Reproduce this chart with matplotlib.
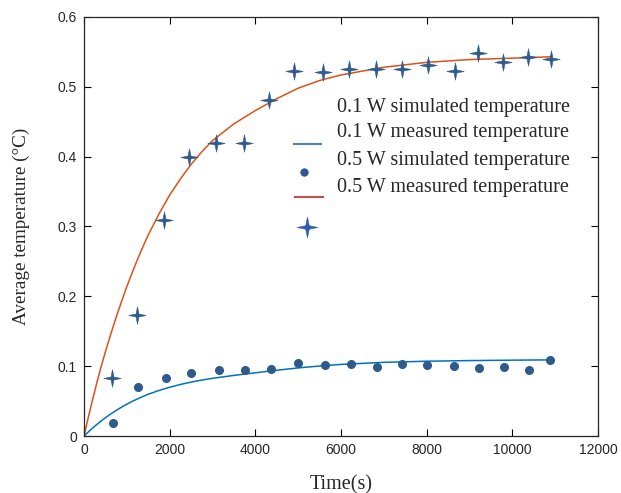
import matplotlib.pyplot as plt
from matplotlib.path import Path
import numpy as np


# measured points, 0.1 W
t_01 = [670, 1261, 1922, 2506, 3145, 3752, 4367, 4990, 5635, 6227,
        6834, 7418, 8009, 8633, 9231, 9815, 10398, 10881]
T_01 = [0.019, 0.070, 0.083, 0.090, 0.094, 0.0945, 0.0964, 0.104, 0.102, 0.103,
        0.099, 0.103, 0.102, 0.100, 0.0974, 0.099, 0.0945, 0.109]

# measured points, 0.5 W
t_05 = [661, 1245, 1876, 2459, 3075, 3744, 4320, 4911, 5581, 6180,
        6811, 7425, 8032, 8655, 9192, 9791, 10368, 10912]
T_05 = [0.0826, 0.173, 0.309, 0.400, 0.420, 0.420, 0.481, 0.522, 0.521, 0.525,
        0.525, 0.526, 0.531, 0.523, 0.549, 0.536, 0.542, 0.540]

# simulated curves
t_sim = [0, 100, 200, 300, 400, 500, 625, 750, 875, 1000, 1125, 1250, 1375, 1500,
         1750, 2000, 2250, 2500, 2750, 3000, 3500, 4000, 4500, 5000, 5500, 6000,
         7000, 8000, 9000, 10000, 10900]
sim_01 = [0, 0.0058, 0.0114, 0.0166, 0.0215, 0.0262, 0.0316, 0.0366, 0.0413, 0.0456,
          0.0496, 0.0532, 0.0566, 0.0598, 0.0652, 0.0698, 0.0738, 0.0772, 0.0801, 0.0826,
          0.0868, 0.0905, 0.0942, 0.0975, 0.1002, 0.1025, 0.1055, 0.1071, 0.1080,
          0.1086, 0.1090]
sim_05 = [0, 0.0267, 0.0520, 0.0765, 0.0995, 0.1208, 0.1460, 0.1700, 0.1925, 0.2140,
          0.2340, 0.2530, 0.2710, 0.2880, 0.3180, 0.3450, 0.3680, 0.3890, 0.4070, 0.4230,
          0.4470, 0.4660, 0.4830, 0.4980, 0.5090, 0.5170, 0.5280, 0.5350, 0.5390,
          0.5410, 0.5430]

labels = ['0.1 W simulated temperature', '0.1 W measured temperature',
          '0.5 W simulated temperature', '0.5 W measured temperature']

mk_col = '#2e5a8c'
txt_col = '#262626'

# thin four-pointed star
w = 0.17
star = Path([(0, 1), (w, w), (1, 0), (w, -w), (0, -1), (-w, -w), (-1, 0), (-w, w), (0, 1)],
            [Path.MOVETO] + [Path.LINETO] * 7 + [Path.CLOSEPOLY])

fig = plt.figure(figsize=(6.21, 4.93), dpi=100)
ax = fig.add_axes([0.1353, 0.1156, 0.8277, 0.850])

ax.plot(t_sim, sim_01, color='#0072BD', lw=1.1)
ax.plot(t_sim, sim_05, color='#D95319', lw=1.1)
ax.plot(t_01, T_01, 'o', color=mk_col, ms=5.5, mec=mk_col)
ax.plot(t_05, T_05, linestyle='none', marker=star, color=mk_col, ms=12.5, mew=0.4)

ax.set_xlim(0, 12000)
ax.set_ylim(0, 0.6)
ax.set_xticks(np.arange(0, 12001, 2000))
ax.set_yticks(np.arange(0, 0.61, 0.1))
ax.set_yticklabels(['0', '0.1', '0.2', '0.3', '0.4', '0.5', '0.6'])
ax.tick_params(direction='in', top=True, right=True, length=5, width=0.8,
               labelsize=10, labelcolor=txt_col, pad=5)
for lab in ax.get_xticklabels() + ax.get_yticklabels():
    lab.set_family('Liberation Sans')
for s in ax.spines.values():
    s.set_linewidth(0.9)
    s.set_color(txt_col)

ax.set_xlabel('Time(s)', family='Liberation Serif', fontsize=14.5, color=txt_col, labelpad=13)
ax.set_ylabel('Average temperature (°C)', family='Liberation Serif', fontsize=13.8,
              color=txt_col, labelpad=20)

# legend, drawn by hand
tr = ax.transAxes
for y, txt in zip([0.7828, 0.7232, 0.6563, 0.5919], labels):
    ax.text(0.4922, y, txt, transform=tr, va='center', ha='left',
            family='Liberation Serif', fontsize=14.5, color=txt_col)
ax.plot([0.4086, 0.4611], [0.6969, 0.6969], transform=tr, color='#4f81bd', lw=1.5, clip_on=False)
ax.plot([0.428], [0.630], 'o', transform=tr, color=mk_col, ms=5, clip_on=False)
ax.plot([0.4105, 0.4650], [0.5704, 0.5704], transform=tr, color='#c0504d', lw=1.5, clip_on=False)
ax.plot([0.4339], [0.4988], transform=tr, linestyle='none', marker=star, color='#2f5ea8',
        ms=15, mew=0.4, clip_on=False)

fig.savefig('out.png', dpi=100)
